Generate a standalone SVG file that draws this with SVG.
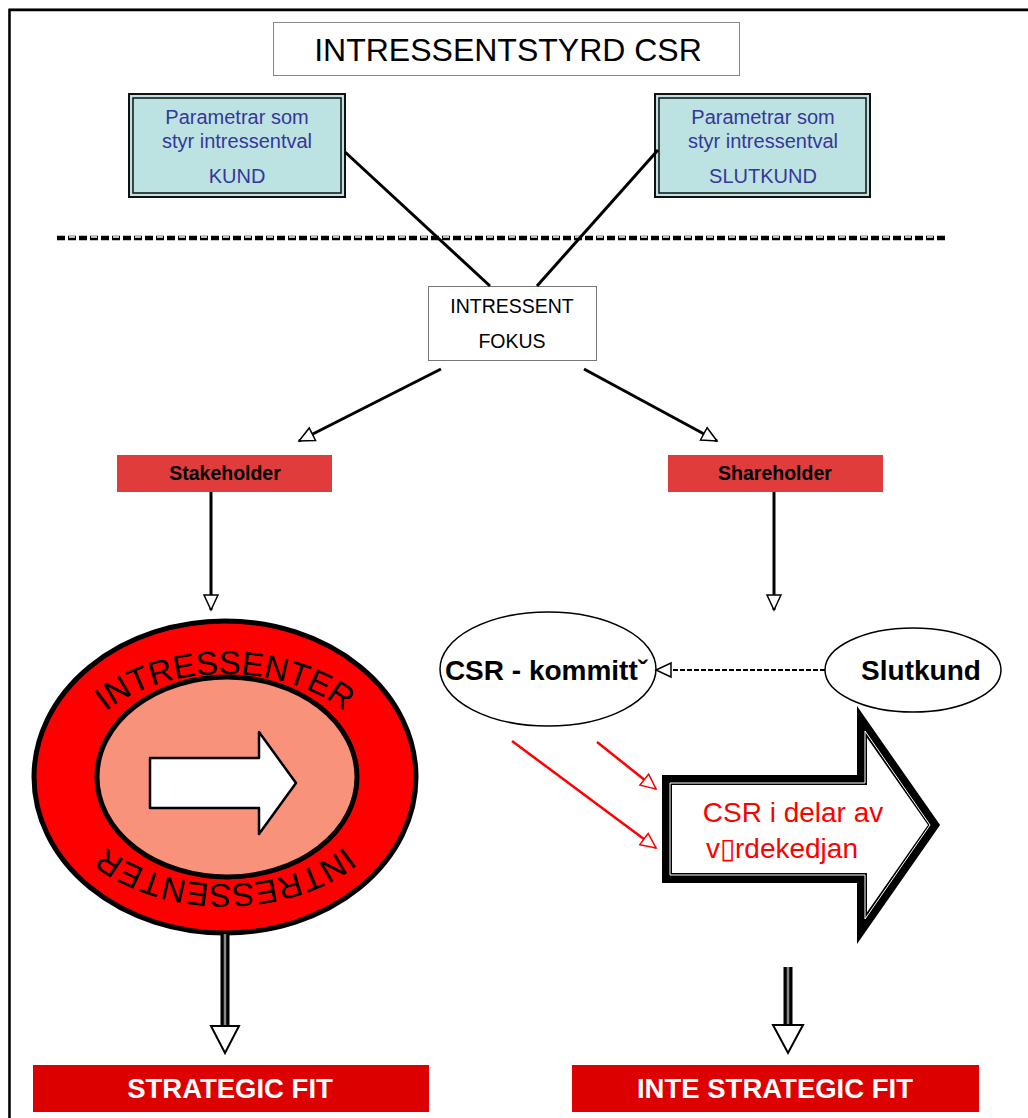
<svg xmlns="http://www.w3.org/2000/svg" width="1028" height="1118" viewBox="0 0 1028 1118">
<style>
text{font-family:"Liberation Sans",Arial,sans-serif}
.conn{stroke:#000;stroke-width:3;fill:none}
.param{fill:#bde2e2;stroke:#111;stroke-width:2}
.ptxt{fill:#35379a;font-size:20px;text-anchor:middle}
.red{fill:#e03c3c}
.bold{font-weight:bold;text-anchor:middle}
.fit{fill:#dd0000}
</style>
<defs>
<marker id="hol" markerUnits="userSpaceOnUse" markerWidth="20" markerHeight="20" refX="16" refY="8" orient="auto" viewBox="0 0 20 16">
<path d="M1,1 L16,8 L1,15 Z" fill="#fff" stroke="#000" stroke-width="1.5"/>
</marker>
<marker id="holr" markerUnits="userSpaceOnUse" markerWidth="20" markerHeight="20" refX="16" refY="8" orient="auto" viewBox="0 0 20 16">
<path d="M1,1 L16,8 L1,15 Z" fill="#fff" stroke="#f00" stroke-width="1.5"/>
</marker>
<path id="ring" d="M 69 779 A 156 105 0 0 1 381 779 A 156 105 0 0 1 69 779"/>
</defs>
<rect width="1028" height="1118" fill="#fff"/>
<path d="M9 1118 V8.5 H1028" fill="none" stroke="#999" stroke-width="1"/>
<path d="M9.5 1118 V10 H1028" fill="none" stroke="#000" stroke-width="2.5"/>

<g id="title">
<rect x="273.5" y="22.5" width="466" height="53" fill="#fff" stroke="#888" stroke-width="1"/>
<text x="508" y="61" font-size="32" text-anchor="middle">INTRESSENTSTYRD CSR</text>
</g>

<g id="param-kund">
<rect class="param" x="129" y="94" width="216" height="103"/>
<rect x="133" y="98" width="208" height="95" fill="none" stroke="#111" stroke-width="1.5"/>
<text class="ptxt" x="237" y="124">Parametrar som</text>
<text class="ptxt" x="237" y="148">styr intressentval</text>
<text class="ptxt" x="237" y="183">KUND</text>
</g>

<g id="param-slutkund">
<rect class="param" x="655" y="94" width="215" height="103"/>
<rect x="659" y="98" width="207" height="95" fill="none" stroke="#111" stroke-width="1.5"/>
<text class="ptxt" x="763" y="124">Parametrar som</text>
<text class="ptxt" x="763" y="148">styr intressentval</text>
<text class="ptxt" x="763" y="183">SLUTKUND</text>
</g>

<g id="divider">
<line x1="57" y1="238" x2="945" y2="238" stroke="#000" stroke-width="4.5" stroke-dasharray="8 3"/>
<line x1="57" y1="237" x2="945" y2="237" stroke="#fff" stroke-width="1.5" stroke-dasharray="0 12 6 4" />
</g>

<g id="fokus">
<rect x="428.5" y="286.5" width="168" height="74" fill="#fff" stroke="#777" stroke-width="1"/>
<text x="512" y="313" font-size="19.5" text-anchor="middle">INTRESSENT</text>
<text x="512" y="348" font-size="19.5" text-anchor="middle">FOKUS</text>
</g>

<g id="stakeholder">
<rect class="red" x="117" y="455" width="215" height="37"/>
<text class="bold" x="225" y="480" font-size="19.5">Stakeholder</text>
</g>

<g id="shareholder">
<rect class="red" x="668" y="455" width="215" height="37"/>
<text class="bold" x="775" y="480" font-size="19.5">Shareholder</text>
</g>

<g id="intressenter">
<ellipse cx="225" cy="777" rx="191" ry="156" fill="#ff0000" stroke="#000" stroke-width="5"/>
<ellipse cx="227" cy="777" rx="130" ry="100" fill="#f9927a" stroke="#000" stroke-width="5"/>
<path d="M150 758 H259 V732 L296 783 L259 834 V808 H150 Z" fill="#fff" stroke="#000" stroke-width="2.5" stroke-linejoin="round"/>
<text font-size="33"><textPath href="#ring" startOffset="25%" text-anchor="middle">INTRESSENTER</textPath></text>
<text font-size="33"><textPath href="#ring" startOffset="75%" text-anchor="middle">INTRESSENTER</textPath></text>
</g>

<g id="csr-kommitte">
<ellipse cx="548" cy="669" rx="108" ry="57" fill="#fff" stroke="#000" stroke-width="1.5"/>
<text class="bold" x="546" y="680" font-size="28">CSR - kommittˇ</text>
</g>

<g id="slutkund">
<ellipse cx="913" cy="670" rx="88" ry="42" fill="#fff" stroke="#000" stroke-width="1.5"/>
<text class="bold" x="921" y="680" font-size="28">Slutkund</text>
</g>

<g id="csr-vardekedjan">
<path d="M667 780 H862 V722 L934 825 L862 928 V878 H667 Z" fill="#fff" stroke="#000" stroke-width="10" stroke-linejoin="miter"/>
<path d="M670 783 H865 V731 L930 825 L865 919 V875 H670 Z" fill="none" stroke="#fff" stroke-width="1"/>
<text x="793" y="822" font-size="28" fill="#ff0000" text-anchor="middle">CSR i delar av</text>
<text x="782" y="858" font-size="28" fill="#ff0000" text-anchor="middle">v▯rdekedjan</text>
</g>

<g id="strategic-fit">
<rect class="fit" x="33" y="1065" width="396" height="47"/>
<text class="bold" x="230" y="1098" font-size="27.5" fill="#fff">STRATEGIC FIT</text>
</g>

<g id="inte-strategic-fit">
<rect class="fit" x="572" y="1065" width="407" height="47"/>
<text class="bold" x="775" y="1098" font-size="27.5" fill="#fff">INTE STRATEGIC FIT</text>
</g>

<g id="connectors">
<line class="conn" x1="345" y1="152" x2="490" y2="286"/>
<line class="conn" x1="658" y1="150" x2="537" y2="286"/>
<line class="conn" x1="441" y1="369" x2="299" y2="441" marker-end="url(#hol)"/>
<line class="conn" x1="584" y1="369" x2="717" y2="441" marker-end="url(#hol)"/>
<line class="conn" x1="211" y1="492" x2="211" y2="610" marker-end="url(#hol)"/>
<line class="conn" x1="774" y1="492" x2="774" y2="610" marker-end="url(#hol)"/>
<line x1="825" y1="670" x2="656" y2="670" stroke="#000" stroke-width="2" stroke-dasharray="5 2" marker-end="url(#hol)"/>
<line x1="512" y1="741" x2="656" y2="848" stroke="#f00" stroke-width="2.5" marker-end="url(#holr)"/>
<line x1="597" y1="742" x2="656" y2="789" stroke="#f00" stroke-width="2.5" marker-end="url(#holr)"/>
<line x1="225" y1="934" x2="225" y2="1027" stroke="#000" stroke-width="9"/>
<line x1="225" y1="934" x2="225" y2="1027" stroke="#888" stroke-width="2.5"/>
<path d="M211 1026 H239 L225 1053 Z" fill="#fff" stroke="#000" stroke-width="2"/>
<line x1="788" y1="967" x2="788" y2="1026" stroke="#000" stroke-width="9"/>
<line x1="788" y1="967" x2="788" y2="1026" stroke="#888" stroke-width="2.5"/>
<path d="M773 1025 H803 L788 1053 Z" fill="#fff" stroke="#000" stroke-width="2"/>
</g>
</svg>
